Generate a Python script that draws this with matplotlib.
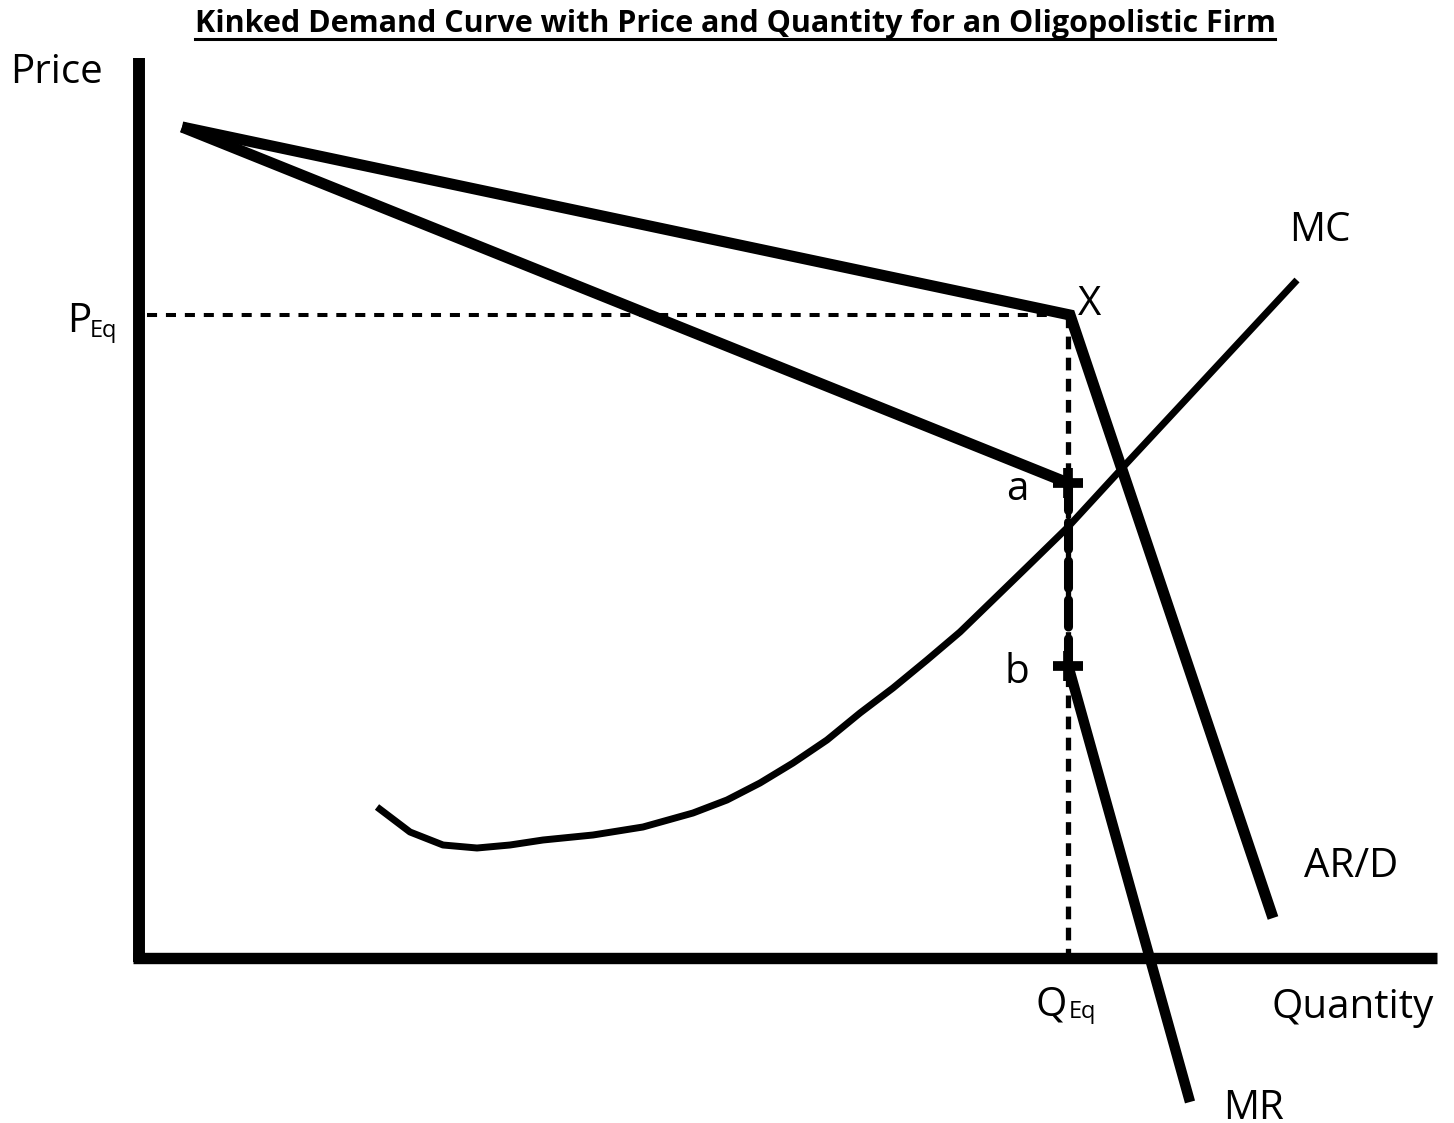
import matplotlib
matplotlib.use("Agg")
import matplotlib.pyplot as plt
from matplotlib.lines import Line2D
from matplotlib.transforms import IdentityTransform

plt.rcParams['font.family'] = ['Open Sans', 'DejaVu Sans']

# 座標は原点 (Quantity=0, Price=0) からの値
demand_q = [43, 931, 1134]
demand_p = [831, 643, 40]

mr_upper_q = [43, 929]
mr_upper_p = [831, 475]
mr_lower_q = [929, 1051]
mr_lower_p = [293, -144]

mc_q = [238, 271, 304, 338, 371, 404, 454, 504, 554, 588, 621, 654, 688, 721, 754,
        788, 821, 854, 888, 929, 986, 1158]
mc_p = [151, 126, 113, 110, 113, 118, 123, 131, 145, 158, 175, 195, 218, 245, 270,
        298, 326, 358, 391, 431, 493, 678]

q_eq = 929
p_eq = 643
point_a = (929, 475)
point_b = (929, 292)

axis_q_max = 1298
axis_p_max = 900

title = "Kinked Demand Curve with Price and Quantity for an Oligopolistic Firm"

fig = plt.figure(figsize=(14.54, 11.23), dpi=100)
ax = fig.add_axes([0, 0, 1, 1])
ax.set_xlim(-139, 1315)
ax.set_ylim(-165, 958)
ax.axis("off")

# 軸
ax.plot([0, 0], [-4, axis_p_max], color="black", lw=8.6, solid_capstyle="butt")
ax.plot([-6, axis_q_max], [0, 0], color="black", lw=8.2, solid_capstyle="butt")

# 点線
ax.plot([8, q_eq], [p_eq, p_eq], color="black", lw=2.9, linestyle=(0, (2.5, 2.2)))
ax.plot([q_eq, q_eq], [p_eq, 0], color="black", lw=3.8, linestyle=(0, (2.4, 1.6)))
ax.plot([q_eq, q_eq], [point_a[1], point_b[1]], color="black", lw=6.5,
        linestyle=(0, (3.0, 1.3)), dash_capstyle="round")

# 曲線
ax.plot(demand_q, demand_p, color="black", lw=8, solid_capstyle="butt", solid_joinstyle="miter")
ax.plot(mr_upper_q, mr_upper_p, color="black", lw=8, solid_capstyle="butt")
ax.plot(mr_lower_q, mr_lower_p, color="black", lw=7.5, solid_capstyle="butt")
ax.plot(mc_q, mc_p, color="black", lw=5, solid_capstyle="butt", solid_joinstyle="round")

# a, b の十字
ax.plot([point_a[0], point_b[0]], [point_a[1], point_b[1]], linestyle="none",
        marker="+", color="black", markersize=21, markeredgewidth=7)

fs = 29
fs_sub = 17
ax.text(-83, 875, "Price", fontsize=fs, ha="center", va="baseline")
ax.text(-72, 626, "P", fontsize=fs, ha="left", va="baseline")
ax.text(-49, 621, "Eq", fontsize=fs_sub, ha="left", va="baseline")
ax.text(939, 643, "X", fontsize=fs, ha="left", va="baseline")
ax.text(1181, 717, "MC", fontsize=fs, ha="center", va="baseline")
ax.text(878, 458, "a", fontsize=fs, ha="center", va="baseline")
ax.text(878, 275, "b", fontsize=fs, ha="center", va="baseline")
ax.text(1212, 81, "AR/D", fontsize=fs, ha="center", va="baseline")
ax.text(896, -57, "Q", fontsize=fs, ha="left", va="baseline")
ax.text(930, -60, "Eq", fontsize=fs_sub, ha="left", va="baseline")
ax.text(1133, -60, "Quantity", fontsize=fs, ha="left", va="baseline")
ax.text(1084, -161, "MR", fontsize=fs, ha="left", va="baseline")

t = fig.text(735 / 1454, 1 - 32 / 1123, title, fontsize=22, fontweight="bold",
             ha="center", va="baseline")

# タイトルの下線
fig.canvas.draw()
bb = t.get_window_extent()
y_line = 1123 - 39
fig.add_artist(Line2D([bb.x0, bb.x1], [y_line, y_line], transform=IdentityTransform(),
                      color="black", lw=2.2))

fig.savefig("out.png", dpi=100)
